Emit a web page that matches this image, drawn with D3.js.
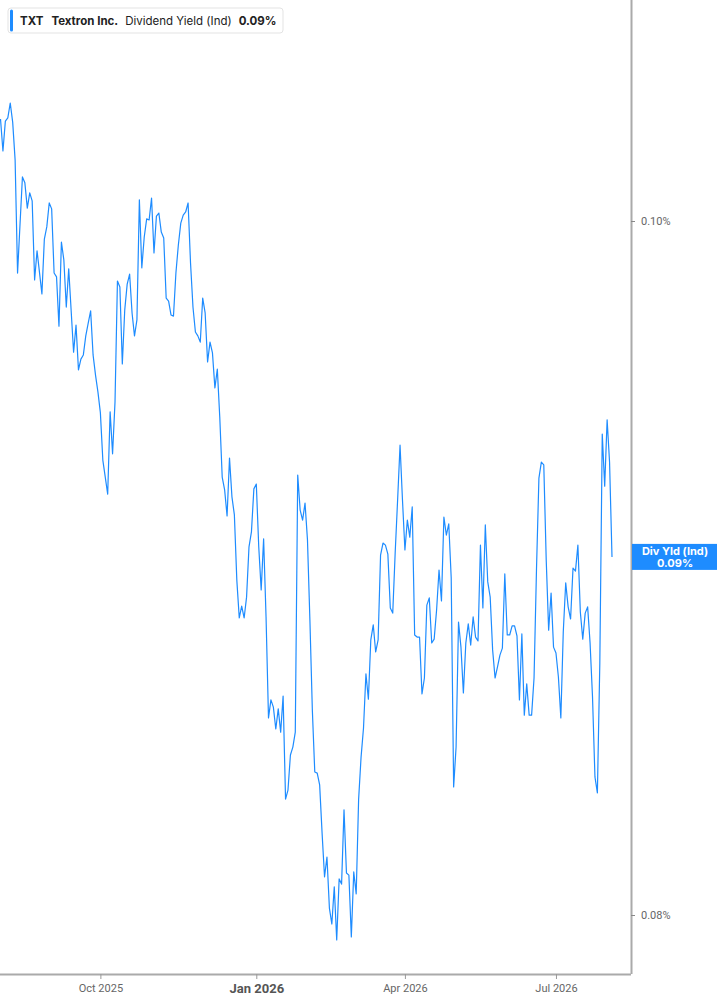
<!DOCTYPE html>
<html>
<head>
<meta charset="utf-8">
<script src="https://cdn.jsdelivr.net/npm/d3@7"></script>
<style>
  body { margin: 0; background: #fff; }
  svg { display: block; }
</style>
</head>
<body>
<div id="chart"></div>
<script>
// trading-day index (0 = first session shown) and Dividend Yield (Ind), in %
const tradingDay = [
  0, 1, 2, 3, 4, 5, 6, 7, 9, 10, 11, 12, 13, 14, 15, 17, 18, 19, 20, 21,
  22, 23, 24, 25, 26, 27, 28, 30, 31, 32, 33, 34, 35, 36, 37, 38, 39, 40, 41, 42,
  44, 45, 46, 47, 48, 49, 50, 51, 52, 53, 54, 55, 56, 57, 58, 59, 60, 61, 62, 63,
  64, 65, 66, 67, 68, 69, 70, 71, 72, 73, 74, 75, 76, 77, 78, 79, 80, 81, 82, 83,
  84, 85, 86, 87, 88, 89, 90, 91, 92, 93, 94, 95, 96, 97, 98, 99, 100, 101, 102, 103,
  104, 105, 106, 107, 108, 109, 110, 111, 112, 113, 114, 115, 116, 117, 118, 119, 120, 121, 122, 123,
  124, 125, 126, 127, 128, 129, 130, 131, 132, 133, 134, 135, 136, 137, 138, 139, 140, 141, 142, 143,
  144, 145, 146, 147, 148, 149, 150, 151, 152, 153, 154, 155, 156, 157, 158, 159, 160, 161, 162, 163,
  164, 165, 166, 167, 168, 169, 170, 171, 172, 173, 174, 175, 176, 177, 178, 179, 180, 181, 182, 183,
  184, 185, 186, 187, 188, 189, 190, 191, 192, 193, 194, 195, 196, 197, 198, 199, 200, 201, 202, 203,
  204, 205, 206, 207, 208, 209, 210, 211, 212, 213, 214, 215, 216, 217, 218, 219, 220, 221, 222, 223,
  224, 225, 226, 227, 228, 229, 230, 231, 232, 233, 234, 235, 236, 237, 238, 239, 240, 241, 242, 243,
  244, 245, 246, 247, 248, 249, 250, 251
];
const divYield = [
  0.10294, 0.10202, 0.10288, 0.10297, 0.10340, 0.10285, 0.10176, 0.09850, 0.10127, 0.10110,
  0.10037, 0.10081, 0.10058, 0.09830, 0.09914, 0.09790, 0.09948, 0.09983, 0.10052, 0.10035,
  0.09850, 0.09839, 0.09697, 0.09939, 0.09888, 0.09752, 0.09862, 0.09622, 0.09700, 0.09571,
  0.09602, 0.09614, 0.09669, 0.09706, 0.09741, 0.09614, 0.09556, 0.09507, 0.09447, 0.09311,
  0.09213, 0.09450, 0.09329, 0.09478, 0.09827, 0.09810, 0.09588, 0.09744, 0.09818, 0.09847,
  0.09735, 0.09669, 0.09715, 0.10061, 0.09865, 0.09954, 0.10006, 0.10003, 0.10066, 0.09908,
  0.10014, 0.10023, 0.09968, 0.09951, 0.09778, 0.09769, 0.09729, 0.09726, 0.09850, 0.09931,
  0.09994, 0.10017, 0.10026, 0.10052, 0.09879, 0.09752, 0.09680, 0.09669, 0.09651, 0.09778,
  0.09735, 0.09594, 0.09651, 0.09620, 0.09519, 0.09573, 0.09435, 0.09262, 0.09225, 0.09150,
  0.09317, 0.09205, 0.09153, 0.08965, 0.08856, 0.08890, 0.08856, 0.08916, 0.09061, 0.09104,
  0.09228, 0.09242, 0.09061, 0.08937, 0.09084, 0.08859, 0.08568, 0.08620, 0.08599, 0.08536,
  0.08594, 0.08527, 0.08631, 0.08334, 0.08360, 0.08461, 0.08484, 0.08527, 0.09268, 0.09167,
  0.09138, 0.09187, 0.09081, 0.08850, 0.08591, 0.08412, 0.08409, 0.08375, 0.08236, 0.08110,
  0.08167, 0.08020, 0.07974, 0.08081, 0.07928, 0.08104, 0.08089, 0.08303, 0.08121, 0.08115,
  0.07937, 0.08124, 0.08061, 0.08334, 0.08455, 0.08539, 0.08695, 0.08622, 0.08793, 0.08836,
  0.08758, 0.08793, 0.09037, 0.09072, 0.09066, 0.09040, 0.08885, 0.08870, 0.09043, 0.09196,
  0.09354, 0.09196, 0.09052, 0.09138, 0.09089, 0.09176, 0.08807, 0.08801, 0.08801, 0.08637,
  0.08683, 0.08893, 0.08914, 0.08784, 0.08795, 0.08879, 0.08994, 0.08905, 0.09147, 0.09095,
  0.09127, 0.08971, 0.08369, 0.08484, 0.08844, 0.08772, 0.08640, 0.08784, 0.08839, 0.08778,
  0.08859, 0.08801, 0.08790, 0.09066, 0.08885, 0.09124, 0.08960, 0.08916, 0.08764, 0.08683,
  0.08715, 0.08749, 0.08769, 0.08983, 0.08807, 0.08807, 0.08833, 0.08833, 0.08804, 0.08620,
  0.08810, 0.08576, 0.08666, 0.08576, 0.08576, 0.08683, 0.08994, 0.09259, 0.09305, 0.09297,
  0.09023, 0.08821, 0.08928, 0.08772, 0.08755, 0.08686, 0.08568, 0.08816, 0.08957, 0.08888,
  0.08853, 0.09000, 0.08991, 0.09066, 0.08873, 0.08795, 0.08870, 0.08888, 0.08784, 0.08628,
  0.08398, 0.08352, 0.08726, 0.09386, 0.09236, 0.09427, 0.09305, 0.09032
];
const xTickDay = [41, 105, 166, 228];
const xTickLabel = ["Oct 2025", "Jan 2026", "Apr 2026", "Jul 2026"];
const yTicks = [0.08, 0.10];

const width = 717, height = 1005;
const plotRight = 631, plotBottom = 974;
const blue = "#1e8cff";

const data = tradingDay.map((d, i) => ({ day: d, value: divYield[i] }));
const last = data[data.length - 1];

const svg = d3.select("#chart").append("svg")
  .attr("width", width)
  .attr("height", height);

const x = d3.scaleLinear()
  .domain([0, 251])
  .range([0.5, 612]);

const y = d3.scaleLinear()
  .domain([0.08, 0.10])
  .range([915, 221]);

// line
const line = d3.line()
  .x(d => x(d.day))
  .y(d => y(d.value));

svg.append("path")
  .datum(data)
  .attr("fill", "none")
  .attr("stroke", blue)
  .attr("stroke-width", 1.2)
  .attr("stroke-linejoin", "round")
  .attr("d", line);

// bottom axis
const xAxis = svg.append("g")
  .attr("transform", `translate(0,${plotBottom})`)
  .call(d3.axisBottom(x)
    .tickValues(xTickDay)
    .tickSize(5)
    .tickFormat((d, i) => xTickLabel[i]));
xAxis.select(".domain")
  .attr("d", `M0,0.5H${plotRight}`)
  .attr("stroke", "#aaa")
  .attr("stroke-width", 2);
xAxis.selectAll(".tick line").attr("stroke", "#999");
xAxis.selectAll(".tick text")
  .attr("y", 10)
  .attr("fill", "#666")
  .style("font-family", "Roboto, sans-serif")
  .style("font-size", "11px");
xAxis.selectAll(".tick text")
  .filter(d => d === 105)
  .attr("fill", "#555")
  .style("font-size", "13px")
  .style("font-weight", "bold");

// right axis
const yAxis = svg.append("g")
  .attr("transform", `translate(${plotRight},0)`)
  .call(d3.axisRight(y)
    .tickValues(yTicks)
    .tickSize(4)
    .tickPadding(6)
    .tickFormat(d => d3.format(".2f")(d) + "%"));
yAxis.select(".domain")
  .attr("d", `M0.5,0V${plotBottom}`)
  .attr("stroke", "#aaa")
  .attr("stroke-width", 2);
yAxis.selectAll(".tick line").attr("stroke", "#888");
yAxis.selectAll(".tick text")
  .attr("fill", "#666")
  .style("font-family", "Roboto, sans-serif")
  .style("font-size", "11px");

// last value tag
const tagY = y(last.value);
const tag = svg.append("g").attr("transform", `translate(${plotRight + 1},${tagY})`);
tag.append("rect")
  .attr("x", 0)
  .attr("y", -13)
  .attr("width", width - plotRight)
  .attr("height", 26)
  .attr("fill", blue);
tag.append("text")
  .attr("x", (width - plotRight) / 2)
  .attr("y", -2)
  .attr("text-anchor", "middle")
  .attr("fill", "#fff")
  .style("font-family", "Inter, sans-serif")
  .style("font-size", "11px")
  .style("font-weight", "bold")
  .text("Div Yld (Ind)");
tag.append("text")
  .attr("x", (width - plotRight) / 2)
  .attr("y", 10)
  .attr("text-anchor", "middle")
  .attr("fill", "#fff")
  .style("font-family", "Inter, sans-serif")
  .style("font-size", "11px")
  .style("font-weight", "bold")
  .text(d3.format(".2f")(last.value) + "%");

// legend
const legend = svg.append("g").attr("transform", "translate(8,8)");
legend.append("rect")
  .attr("width", 275)
  .attr("height", 25)
  .attr("rx", 3)
  .attr("fill", "#fff")
  .attr("stroke", "#e3e3e3");
legend.append("rect")
  .attr("x", 2)
  .attr("y", 1.5)
  .attr("width", 3)
  .attr("height", 22)
  .attr("rx", 1.5)
  .attr("fill", blue);

const legendText = legend.append("text")
  .attr("x", 12)
  .attr("y", 17)
  .attr("fill", "#222")
  .style("font-family", "Inter, sans-serif")
  .style("font-size", "11.5px");
legendText.append("tspan").style("font-weight", "bold").text("TXT");
legendText.append("tspan").attr("dx", 8).style("font-weight", "bold").text("Textron Inc.");
legendText.append("tspan").attr("dx", 7).text("Dividend Yield (Ind)");
legendText.append("tspan").attr("dx", 7).style("font-weight", "bold")
  .text(d3.format(".2f")(last.value) + "%");
</script>
</body>
</html>
